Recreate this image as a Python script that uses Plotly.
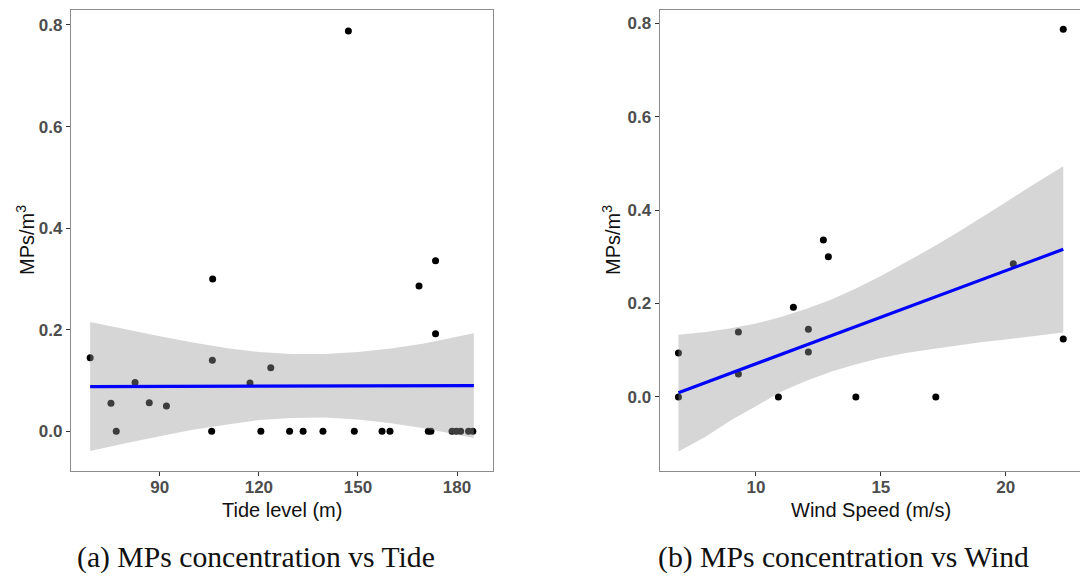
import plotly.graph_objects as go

# ---- Panel (a): MPs concentration against tide level ----
tide_level = [68.9, 75.2, 76.8, 82.5, 86.8, 92.0, 106.0, 105.9, 105.7, 117.3,
              120.6, 123.6, 129.3, 133.4, 139.4, 147.1, 148.9, 157.3, 159.7, 168.5,
              171.3, 172.1, 173.5, 173.5, 178.5, 179.8, 181.1, 183.5, 184.8]
conc_tide = [0.145, 0.055, 0.0, 0.096, 0.056, 0.050, 0.300, 0.140, 0.0, 0.095,
             0.0, 0.125, 0.0, 0.0, 0.0, 0.788, 0.0, 0.0, 0.0, 0.286,
             0.0, 0.0, 0.336, 0.192, 0.0, 0.0, 0.0, 0.0, 0.0]

# linear fit and its confidence band
fit_tide_x = [68.9, 185.1]
fit_tide_y = [0.0880, 0.0900]
band_tide_x = [68.9, 80, 90, 100, 110, 120, 130, 140, 150, 160, 170, 185.1]
band_tide_hi = [0.215, 0.200, 0.187, 0.175, 0.164, 0.156, 0.152, 0.152, 0.156, 0.163, 0.173, 0.193]
band_tide_lo = [-0.039, -0.023, -0.010, 0.003, 0.013, 0.022, 0.026, 0.027, 0.023, 0.016, 0.006, -0.013]

# ---- Panel (b): MPs concentration against wind speed ----
wind_speed = [6.9, 6.9, 9.3, 9.3, 10.9, 11.5, 12.1, 12.1, 12.7, 12.9,
              14.0, 17.2, 20.3, 22.3, 22.3]
conc_wind = [0.094, 0.0, 0.139, 0.049, 0.0, 0.192, 0.145, 0.096, 0.336, 0.300,
             0.0, 0.0, 0.285, 0.124, 0.787]

fit_wind_x = [6.9, 22.3]
fit_wind_y = [0.009, 0.316]
band_wind_x = [6.9, 8, 9, 10, 11, 12, 13, 14, 15, 16, 17, 18, 19, 20, 21, 22.3]
band_wind_hi = [0.133, 0.139, 0.147, 0.157, 0.171, 0.188, 0.208, 0.232, 0.259, 0.288,
                0.318, 0.350, 0.383, 0.417, 0.451, 0.494]
band_wind_lo = [-0.117, -0.085, -0.050, -0.020, 0.011, 0.034, 0.054, 0.070, 0.083, 0.094,
                0.102, 0.110, 0.117, 0.123, 0.129, 0.138]

tide_ticks = [90, 120, 150, 180]
wind_ticks = [10, 15, 20]
conc_ticks = [0.0, 0.2, 0.4, 0.6, 0.8]

POINT = "black"
RIBBON = "rgba(153,153,153,0.4)"
LINE = "#0000FF"

fig = go.Figure()


def add_panel(xs, ys, fx, fy, bx, bhi, blo, xa, ya):
    fig.add_trace(go.Scatter(x=xs, y=ys, mode="markers", xaxis=xa, yaxis=ya,
                             marker=dict(size=7, color=POINT), showlegend=False,
                             hoverinfo="x+y"))
    fig.add_trace(go.Scatter(x=bx + bx[::-1], y=bhi + blo[::-1], mode="lines",
                             fill="toself", fillcolor=RIBBON, line=dict(width=0),
                             xaxis=xa, yaxis=ya, showlegend=False, hoverinfo="skip"))
    fig.add_trace(go.Scatter(x=fx, y=fy, mode="lines", line=dict(color=LINE, width=3.2),
                             xaxis=xa, yaxis=ya, showlegend=False, hoverinfo="skip"))


add_panel(tide_level, conc_tide, fit_tide_x, fit_tide_y,
          band_tide_x, band_tide_hi, band_tide_lo, "x", "y")
add_panel(wind_speed, conc_wind, fit_wind_x, fit_wind_y,
          band_wind_x, band_wind_hi, band_wind_lo, "x2", "y2")

tick_font = dict(family="Liberation Sans, Arial, sans-serif", size=17,
                 color="#4D4D4D", weight="bold")
axis_common = dict(showline=True, linecolor="#8C8C8C", linewidth=1.2,
                   ticks="outside", ticklen=4, tickwidth=1, tickcolor="#333333",
                   showgrid=False, zeroline=False, tickfont=tick_font)

y_dom = [106 / 577, 567 / 577]
fig.update_layout(
    width=1080, height=577,
    margin=dict(l=0, r=0, t=0, b=0),
    paper_bgcolor="white", plot_bgcolor="white",
    xaxis=dict(domain=[71 / 1080, 493 / 1080], range=[63.1, 190.9],
               tickvals=tide_ticks, mirror=True, anchor="y",
               ticklabelstandoff=-4, **axis_common),
    yaxis=dict(domain=y_dom, range=[-0.0782, 0.8295], tickvals=conc_ticks,
               tickformat=".1f", mirror=True, anchor="x", **axis_common),
    xaxis2=dict(domain=[659.7 / 1080, 1.0], range=[6.15, 22.97],
                tickvals=wind_ticks, mirror=True, anchor="y2",
                ticklabelstandoff=-4, **axis_common),
    yaxis2=dict(domain=y_dom, range=[-0.1587, 0.8284], tickvals=conc_ticks,
                tickformat=".1f", mirror=False, anchor="x2", **axis_common),
)

title_font = dict(family="Liberation Sans, Arial, sans-serif", size=20, color="#111111")
cap_font = dict(family="Liberation Serif, Times New Roman, serif", size=29.7, color="#111111")


def paper_y(py):
    return (577 - py) / 577


annotations = [
    dict(text="MPs/m<sup>3</sup>", x=25 / 1080, y=paper_y(240), textangle=-90,
         font=title_font),
    dict(text="MPs/m<sup>3</sup>", x=611 / 1080, y=paper_y(240), textangle=-90,
         font=title_font),
    dict(text="Tide level (m)", x=282 / 1080, y=paper_y(510), font=title_font),
    dict(text="Wind Speed (m/s)", x=871 / 1080, y=paper_y(510), font=title_font),
    dict(text="(a) MPs concentration vs Tide", x=255.5 / 1080, y=paper_y(557), font=cap_font),
    dict(text="(b) MPs concentration vs Wind", x=843.5 / 1080, y=paper_y(557), font=cap_font),
]
for a in annotations:
    a.update(xref="paper", yref="paper", xanchor="center", yanchor="middle",
             showarrow=False)
fig.update_layout(annotations=annotations)

fig.write_html("out.html")
